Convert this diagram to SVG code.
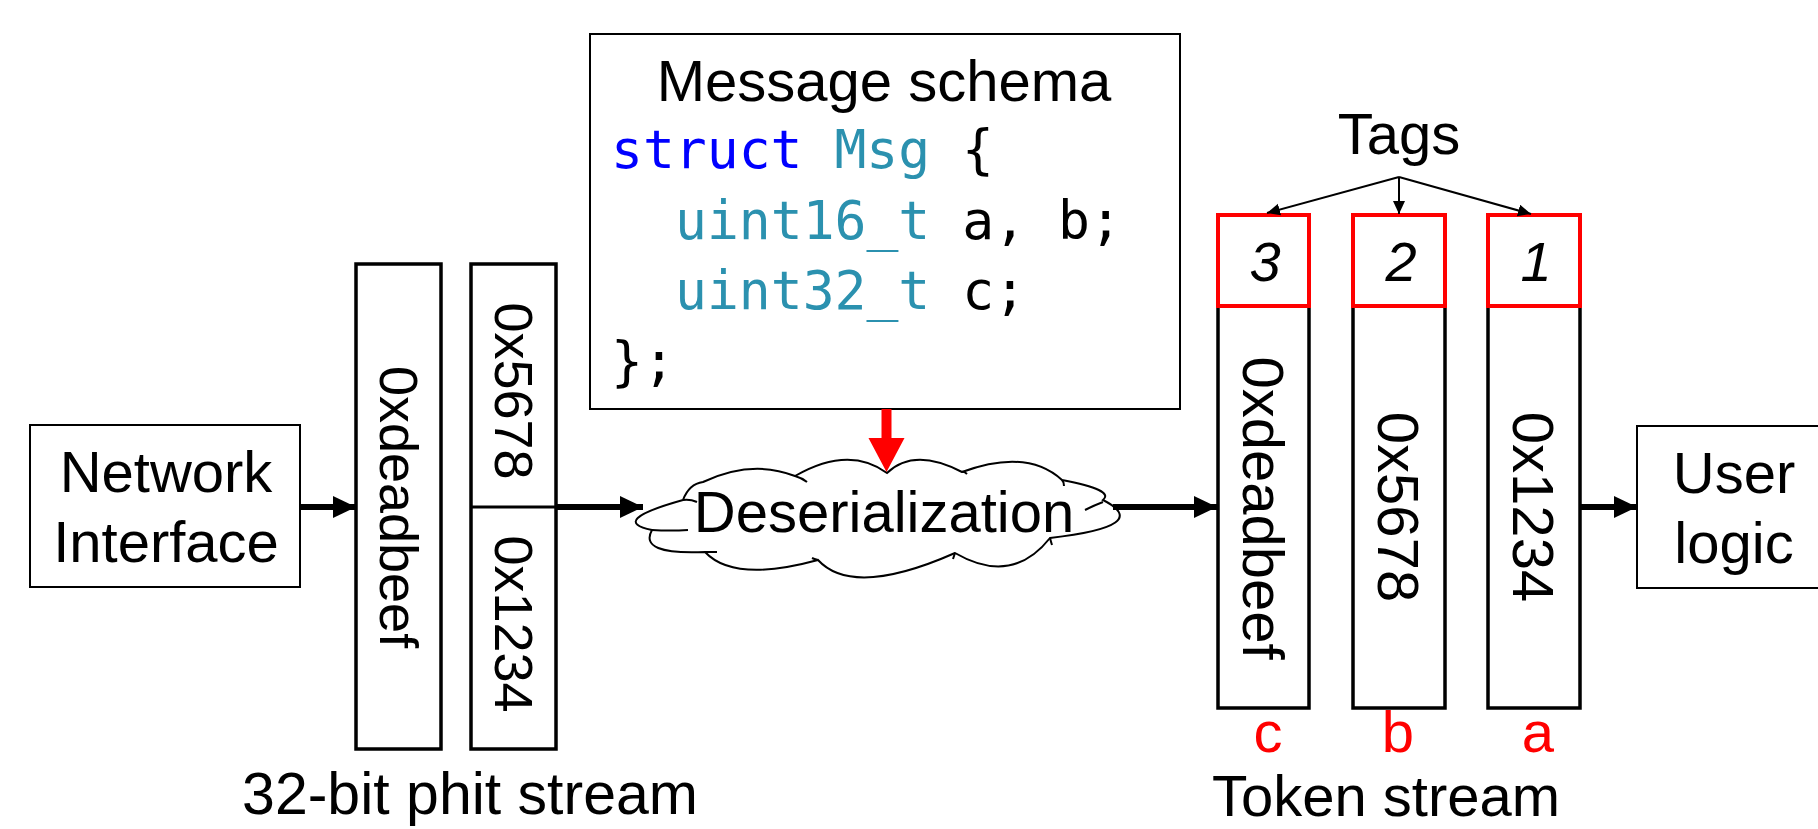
<svg xmlns="http://www.w3.org/2000/svg" width="1818" height="829" viewBox="0 0 1818 829">
<style>
.t{font-family:"Liberation Sans",Arial,sans-serif;font-size:58px;fill:#000}
.m{font-family:"DejaVu Sans Mono","Liberation Mono",monospace;font-size:53px;fill:#000}
.kw{fill:#0000FF}
.ty{fill:#2B91AF}
.red{fill:#FF0000}
.box{fill:#fff;stroke:#000;stroke-width:2}
.col{fill:#fff;stroke:#000;stroke-width:3.5}
.tag{fill:#fff;stroke:#FF0000;stroke-width:4}
.conn{stroke:#000;stroke-width:6;fill:none}
.thin{stroke:#000;stroke-width:2;fill:none}
</style>
<defs>
<marker id="ah" markerUnits="userSpaceOnUse" markerWidth="24" markerHeight="24" refX="23" refY="11" orient="auto">
<path d="M0,0 L23,11 L0,22 Z" fill="#000"/>
</marker>
<marker id="ahs" markerUnits="userSpaceOnUse" markerWidth="14" markerHeight="14" refX="13" refY="6" orient="auto">
<path d="M0,0 L13,6 L0,12 Z" fill="#000"/>
</marker>
</defs>

<g id="network-interface">
<rect class="box" x="30" y="425" width="270" height="162"/>
<text class="t" x="166" y="492" text-anchor="middle">Network</text>
<text class="t" x="166" y="562" text-anchor="middle">Interface</text>
</g>

<g id="phit-stream">
<rect class="col" x="356" y="264" width="85" height="485"/>
<text class="t" style="font-size:54px" text-anchor="middle" transform="translate(398.5,507) rotate(90)" x="0" y="19">0xdeadbeef</text>
<rect class="col" x="471" y="264" width="85" height="485"/>
<line x1="471" y1="507" x2="556" y2="507" stroke="#000" stroke-width="3"/>
<text class="t" style="font-size:54px" text-anchor="middle" transform="translate(513.5,391) rotate(90)" x="0" y="19">0x5678</text>
<text class="t" style="font-size:54px" text-anchor="middle" transform="translate(513.5,624) rotate(90)" x="0" y="19">0x1234</text>
<text class="t" style="font-size:59px" x="470" y="814" text-anchor="middle">32-bit phit stream</text>
</g>

<g id="message-schema">
<rect class="box" x="590" y="34" width="590" height="375"/>
<text class="t" x="884" y="101" text-anchor="middle">Message schema</text>
<text class="m" x="611" y="168"><tspan class="kw">struct</tspan> <tspan class="ty">Msg</tspan> {</text>
<text class="m" x="675" y="238.5"><tspan class="ty">uint16_t</tspan> a, b;</text>
<text class="m" x="675" y="309"><tspan class="ty">uint32_t</tspan> c;</text>
<text class="m" x="611" y="380">};</text>
</g>

<g id="deserialization">
<path d="M683,500 Q608,521 652,530 Q638,555 705,552 Q734,583 818,560 Q853,598 955,553 Q1012,586 1050,538 Q1154,526 1103,500 Q1115,490 1062,480 Q1027,448 962,472 Q914,447 887,473 Q849,445 795,476 Q752,459 703,482 Q689,484 683,500 Z" fill="#fff" stroke="#000" stroke-width="2"/>
<path d="M683,500 Q690,499 697,502 M795,476 Q802,478 807,482 M962,472 Q964,471 967,474 M1062,480 Q1064,482 1064,486 M1085,510 Q1095,505 1103,502 M1050,538 Q1051,542 1052,545 M955,553 Q954,556 953,559 M818,560 Q814,559 812,558 M705,552 Q712,552 717,552 M652,530 Q670,531 688,530" fill="none" stroke="#000" stroke-width="2"/>
<text class="t" x="884" y="532" text-anchor="middle">Deserialization</text>
</g>

<g id="tags">
<text class="t" x="1399" y="154" text-anchor="middle">Tags</text>
</g>

<g id="token-c">
<rect class="col" x="1218" y="306" width="91" height="402"/>
<rect class="tag" x="1218" y="215" width="91" height="91"/>
<text class="t" style="font-style:italic;font-size:56px" x="1265" y="281" text-anchor="middle">3</text>
<text class="t" text-anchor="middle" transform="translate(1263.5,508) rotate(90)" x="0" y="21">0xdeadbeef</text>
<text class="t red" x="1268" y="752" text-anchor="middle">c</text>
</g>

<g id="token-b">
<rect class="col" x="1353" y="306" width="92" height="402"/>
<rect class="tag" x="1353" y="215" width="92" height="91"/>
<text class="t" style="font-style:italic;font-size:56px" x="1401" y="281" text-anchor="middle">2</text>
<text class="t" text-anchor="middle" transform="translate(1399,507) rotate(90)" x="0" y="21">0x5678</text>
<text class="t red" x="1398" y="752" text-anchor="middle">b</text>
</g>

<g id="token-a">
<rect class="col" x="1488" y="306" width="92" height="402"/>
<rect class="tag" x="1488" y="215" width="92" height="91"/>
<text class="t" style="font-style:italic;font-size:56px" x="1536" y="281" text-anchor="middle">1</text>
<text class="t" text-anchor="middle" transform="translate(1534,507) rotate(90)" x="0" y="21">0x1234</text>
<text class="t red" x="1538" y="752" text-anchor="middle">a</text>
</g>

<g id="token-stream-label">
<text class="t" x="1386" y="816" text-anchor="middle">Token stream</text>
</g>

<g id="user-logic">
<rect class="box" x="1637" y="426" width="200" height="162"/>
<text class="t" x="1734" y="493" text-anchor="middle">User</text>
<text class="t" x="1734" y="563" text-anchor="middle">logic</text>
</g>

<g id="connectors">
<line class="conn" x1="300" y1="507" x2="356" y2="507" marker-end="url(#ah)"/>
<line class="conn" x1="557" y1="507" x2="643" y2="507" marker-end="url(#ah)"/>
<line class="conn" x1="1113" y1="507" x2="1217" y2="507" marker-end="url(#ah)"/>
<line class="conn" x1="1581" y1="507" x2="1637" y2="507" marker-end="url(#ah)"/>
<line x1="886.5" y1="409" x2="886.5" y2="440" stroke="#FF0000" stroke-width="10"/>
<path d="M868.5,438 L904.5,438 L886.5,472 Z" fill="#FF0000"/>
<line class="thin" x1="1399" y1="177" x2="1267" y2="213" marker-end="url(#ahs)"/>
<line class="thin" x1="1399" y1="177" x2="1399" y2="214" marker-end="url(#ahs)"/>
<line class="thin" x1="1399" y1="177" x2="1531" y2="214" marker-end="url(#ahs)"/>
</g>
</svg>
